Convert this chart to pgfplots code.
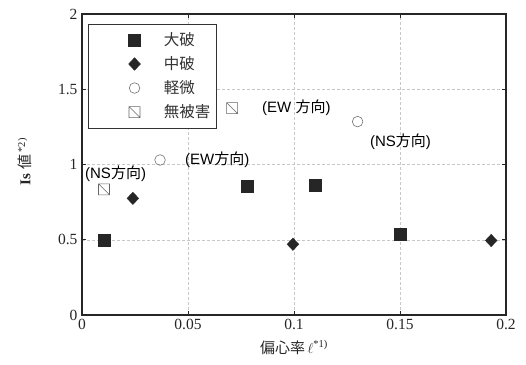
\documentclass[border=0pt]{standalone}
\usepackage{fontspec}
\setmainfont{Liberation Serif}
\newfontfamily\jp{Noto Sans CJK JP}
\newfontfamily\gothic{Liberation Sans}
\usepackage{pgfplots}
\pgfplotsset{compat=1.18}

% open square crossed by a diagonal (no damage)
\pgfdeclareplotmark{slashsquare}{%
  \pgfpathrectangle{\pgfqpoint{-\pgfplotmarksize}{-\pgfplotmarksize}}{\pgfqpoint{2\pgfplotmarksize}{2\pgfplotmarksize}}%
  \pgfpathmoveto{\pgfqpoint{-\pgfplotmarksize}{\pgfplotmarksize}}%
  \pgfpathlineto{\pgfqpoint{\pgfplotmarksize}{-\pgfplotmarksize}}%
  \pgfusepathqstroke}

% legend symbol set in from the frame, with room before the text
\pgfplotsset{widelegend/.style={legend image code/.code={%
  \path (0pt,0pt) (69pt,0pt);
  \draw[##1] plot coordinates {(42pt,0pt)};}}}

\newcommand{\dir}[1]{{\gothic\fontsize{15}{17}\selectfont #1}}

\begin{document}
\begin{tikzpicture}
\begin{axis}[
  scale only axis, width=424pt, height=301pt,
  xmin=0, xmax=0.2, ymin=0, ymax=2,
  xtick={0,0.05,0.1,0.15,0.2}, ytick={0,0.5,1,1.5,2},
  xticklabels={0,0.05,0.1,0.15,0.2}, yticklabels={0,0.5,1,1.5,2},
  /pgf/number format/assume math mode=true,
  tick label style={font=\fontsize{15.5}{17}\selectfont, text=black!85},
  xticklabel style={yshift=-1pt},
  yticklabel style={xshift=-1pt},
  axis line style={line width=1.1pt, black!85},
  tick style={black!85, line width=0.6pt}, major tick length=4pt, tick align=inside,
  grid=major, major grid style={black!22, dash pattern=on 3pt off 2pt, line width=0.4pt},
  clip=false,
  xlabel={{\jp 偏心率}\,$\ell$\textsuperscript{*1)}},
  ylabel={\textbf{Is} {\jp 値}\,\textsuperscript{*2)}},
  every axis y label/.style={at={(axis description cs:-0.135,0.51)}, rotate=90, anchor=center,
    font=\fontsize{15}{17}\selectfont, text=black!85},
  every axis x label/.style={at={(axis description cs:0.5,0)}, anchor=north, yshift=-22pt,
    font=\fontsize{15}{17}\selectfont, text=black!85},
  legend style={at={(axis description cs:0.014,0.967)}, anchor=north west,
    draw=black!80, line width=0.6pt, inner xsep=4pt, inner ysep=6.5pt,
    font=\jp\fontsize{15.5}{17}\selectfont, text=black!80,
    nodes={inner sep=2pt}, row sep=5.5pt},
  legend cell align=left,
]
\addplot[only marks, widelegend, mark=square*, mark size=6pt, mark options={fill=black!85, draw=black!85}]
  coordinates {(0.0104,0.50)(0.078,0.855)(0.110,0.865)(0.150,0.54)};
\addlegendentry{大破}
\addplot[only marks, widelegend, mark=diamond*, mark size=6.2pt, mark options={fill=black!85, draw=black!85, xscale=1.25}]
  coordinates {(0.024,0.775)(0.0995,0.47)(0.193,0.495)};
\addlegendentry{中破}
\addplot[only marks, widelegend, mark=o, mark size=5.3pt, mark options={draw=black!55, line width=0.6pt}]
  coordinates {(0.0368,1.03)(0.130,1.285)};
\addlegendentry{軽微}
\addplot[only marks, widelegend, mark=slashsquare, mark size=5.5pt, mark options={draw=black!60, line width=0.6pt}]
  coordinates {(0.0104,0.835)(0.0708,1.375)};
\addlegendentry{無被害}

\node[anchor=west, inner sep=0pt] at (axis cs:0.0014,0.94) {\dir{(NS{\jp 方向})}};
\node[anchor=west, inner sep=0pt] at (axis cs:0.0486,1.03) {\dir{(EW{\jp 方向})}};
\node[anchor=west, inner sep=0pt] at (axis cs:0.0849,1.375) {\dir{(EW {\jp 方向})}};
\node[anchor=west, inner sep=0pt] at (axis cs:0.1358,1.15) {\dir{(NS{\jp 方向})}};

\coordinate (sw) at (rel axis cs:0,0);
\coordinate (ne) at (rel axis cs:1,1);
\end{axis}
\path (sw) ++(-82pt,-49pt);
\path (ne) ++(20pt,14pt);
\end{tikzpicture}
\end{document}
